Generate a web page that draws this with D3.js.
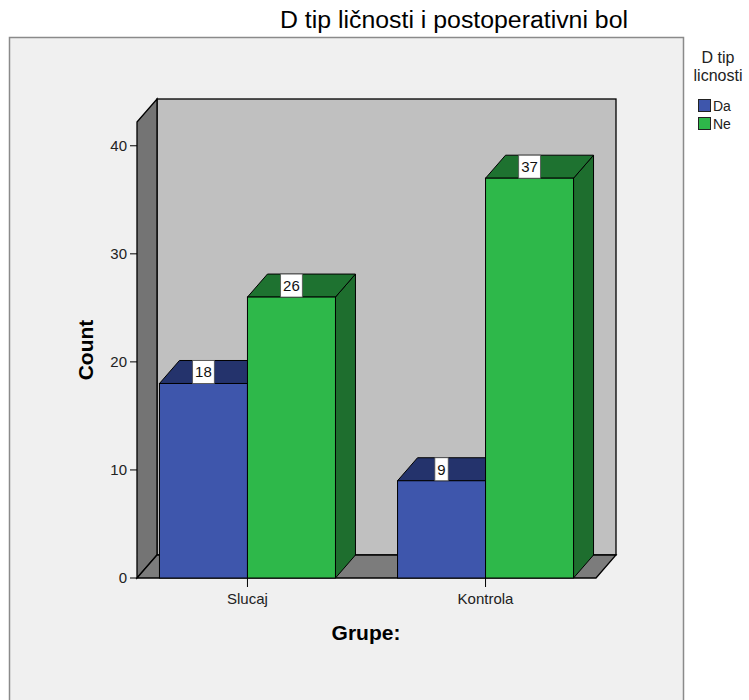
<!DOCTYPE html>
<html><head><meta charset="utf-8">
<script src="https://cdn.jsdelivr.net/npm/d3@7"></script>
<style>body{margin:0;background:#fff}svg{display:block;font-family:"Liberation Sans",Arial,sans-serif}</style>
</head><body><svg id="c" width="749" height="700"></svg>
<script>
const groups = ["Slucaj", "Kontrola"];
const keys = ["Da", "Ne"];
const daValues = [18, 9];
const neValues = [26, 37];
const yTicks = [0, 10, 20, 30, 40];
const title = "D tip ličnosti i postoperativni bol";
const legendTitle = ["D tip", "licnosti"];

const svg = d3.select("#c");
const frontColors = {Da: "#3e56ac", Ne: "#2eb84a"};
const topColors = {Da: "#24336c", Ne: "#1e7230"};
const sideColors = {Da: "#1c2a5a", Ne: "#1e6e2e"};
const DX = 20, DY = -23;

svg.append("rect").attr("x", 9.5).attr("y", 37.5).attr("width", 674).attr("height", 680)
  .attr("fill", "#f0f0f0").attr("stroke", "#8a8a8a").attr("stroke-width", 1.5);

svg.append("text").attr("x", 454).attr("y", 28).attr("text-anchor", "middle")
  .attr("font-size", 23).attr("fill", "#000")
  .attr("textLength", 348).attr("lengthAdjust", "spacingAndGlyphs").text(title);

const y = d3.scaleLinear().domain([0, 42.2]).range([578, 122]);
const x0 = d3.scalePoint().domain(groups).range([137, 596]).padding(0.464);
const x1 = d3.scaleBand().domain(keys).range([-88, 88]);

const yTop = y(42.2), yBot = y(0);
const xL = 137, xR = 596;
svg.append("rect").attr("x", xL + DX).attr("y", yTop + DY).attr("width", xR - xL).attr("height", yBot - yTop)
  .attr("fill", "#c0c0c0").attr("stroke", "#000").attr("stroke-width", 1.3);
svg.append("polygon").attr("points", [[xL, yTop], [xL + DX, yTop + DY], [xL + DX, yBot + DY], [xL, yBot]].join(" "))
  .attr("fill", "#747474").attr("stroke", "#000").attr("stroke-width", 1.3);
svg.append("polygon").attr("points", [[xL, yBot], [xL + DX, yBot + DY], [xR + DX, yBot + DY], [xR, yBot]].join(" "))
  .attr("fill", "#7c7c7c").attr("stroke", "#000").attr("stroke-width", 1.3);

const data = [];
groups.forEach((g, i) => {
  data.push({g, k: "Da", v: daValues[i]});
  data.push({g, k: "Ne", v: neValues[i]});
});

const bars = svg.append("g");
data.forEach(d => {
  const xa = x0(d.g) + x1(d.k), xb = xa + x1.bandwidth();
  const yt = y(d.v);
  const g = bars.append("g");
  g.append("polygon").attr("points", [[xb, yt], [xb + DX, yt + DY], [xb + DX, yBot + DY], [xb, yBot]].join(" "))
    .attr("fill", sideColors[d.k]).attr("stroke", "#000").attr("stroke-width", 1);
  g.append("polygon").attr("points", [[xa, yt], [xa + DX, yt + DY], [xb + DX, yt + DY], [xb, yt]].join(" "))
    .attr("fill", topColors[d.k]).attr("stroke", "#000").attr("stroke-width", 1);
  g.append("rect").attr("x", xa).attr("y", yt).attr("width", xb - xa).attr("height", yBot - yt)
    .attr("fill", frontColors[d.k]).attr("stroke", "#000").attr("stroke-width", 1);
  d.cx = (xa + xb) / 2; d.yt = yt;
});

data.forEach(d => {
  const lab = svg.append("g");
  const t = lab.append("text").attr("x", d.cx).attr("y", d.yt - 6).attr("text-anchor", "middle")
    .attr("font-size", 15).attr("fill", "#111").text(d.v);
  const w = t.node().getComputedTextLength() + 5;
  lab.insert("rect", "text").attr("x", d.cx - w / 2).attr("y", d.yt - 23).attr("width", w).attr("height", 23)
    .attr("fill", "#fff").attr("stroke", "#555").attr("stroke-width", 0.8);
});

const ya = svg.append("g");
yTicks.forEach(t => {
  ya.append("line").attr("x1", 130).attr("x2", xL).attr("y1", y(t)).attr("y2", y(t)).attr("stroke", "#000");
  ya.append("text").attr("x", 127).attr("y", y(t)).attr("dy", "0.36em").attr("text-anchor", "end")
    .attr("font-size", 15).attr("fill", "#222").text(t);
});
groups.forEach(g => {
  svg.append("line").attr("x1", x0(g)).attr("x2", x0(g)).attr("y1", yBot).attr("y2", yBot + 9).attr("stroke", "#000");
  svg.append("text").attr("x", x0(g)).attr("y", 604).attr("text-anchor", "middle").attr("font-size", 15)
    .attr("fill", "#222").text(g);
});

svg.append("text").attr("transform", "translate(93,350) rotate(-90)").attr("text-anchor", "middle")
  .attr("font-size", 21).attr("font-weight", "bold").text("Count");
svg.append("text").attr("x", 366).attr("y", 640).attr("text-anchor", "middle")
  .attr("font-size", 21).attr("font-weight", "bold").text("Grupe:");

legendTitle.forEach((s, i) => {
  svg.append("text").attr("x", 718).attr("y", 63 + i * 18).attr("text-anchor", "middle")
    .attr("font-size", 16).attr("fill", "#222").text(s);
});
keys.forEach((k, i) => {
  svg.append("rect").attr("x", 698.5).attr("y", 99.5 + i * 18).attr("width", 12).attr("height", 12)
    .attr("fill", frontColors[k]).attr("stroke", "#222").attr("stroke-width", 1);
  svg.append("text").attr("x", 713).attr("y", 111 + i * 18).attr("font-size", 14).attr("fill", "#222").text(k);
});
</script></body></html>
